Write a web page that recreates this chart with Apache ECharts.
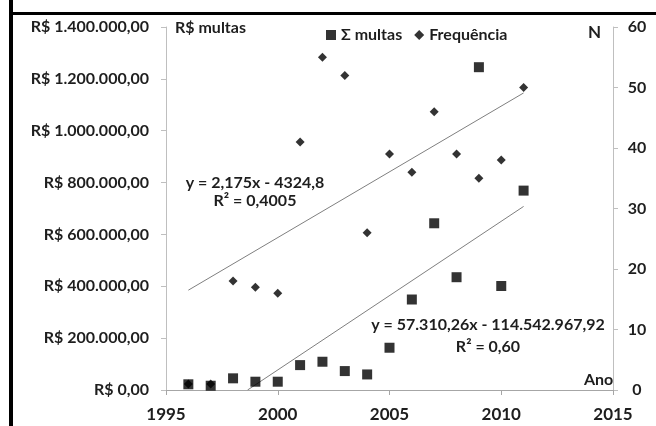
<!DOCTYPE html>
<html><head><meta charset="utf-8">
<script src="https://cdn.jsdelivr.net/npm/echarts@6/dist/echarts.min.js"></script>
<style>html,body{margin:0;padding:0;background:#fff}#c{width:656px;height:426px}</style>
</head><body><div id="c"></div>
<script>
var years = [1996,1997,1998,1999,2000,2001,2002,2003,2004,2005,2006,2007,2008,2009,2010,2011];
var multas = [22000,16500,45000,32000,32000,96000,109000,73000,60000,163000,349000,643000,435000,1245000,401000,769000];
var frequencia = [1,1,18,17,16,41,55,52,26,39,36,46,39,35,38,50];
var trendFreqX = [1996, 2011];
var trendFreqY = [16.5, 49.1];
var trendMultasX = [1998.65, 2011];
var trendMultasY = [0, 708000];
var xTicks = [1995, 2015, 5];
var leftTicks = [0, 1400000, 200000];
var rightTicks = [0, 60, 10];

var FONT = 'Lato';
var TXT = '#1e1e1e';
function brl(v){
  var s = Math.round(v).toString().replace(/\B(?=(\d{3})+(?!\d))/g, '.');
  return 'R$ ' + s + ',00';
}
function pairs(xs, ys){ return xs.map(function(x,i){ return [x, ys[i]]; }); }

var chart = echarts.init(document.getElementById('c'));
chart.setOption({
  animation: false,
  textStyle: {fontFamily: FONT},
  grid: {left: 166, right: 43, top: 27, bottom: 36},
  legend: {
    left: 321, top: 22, itemGap: 12, itemWidth: 10, itemHeight: 10,
    textStyle: {fontFamily: FONT, fontWeight: 'bold', fontSize: 16, color: TXT},
    data: [{name: 'Σ multas', icon: 'rect'}, {name: 'Frequência', icon: 'diamond'}]
  },
  xAxis: {
    type: 'value', min: xTicks[0], max: xTicks[1], interval: xTicks[2],
    axisLine: {lineStyle: {color: '#a6a6a6'}},
    axisTick: {show: true, length: 5, lineStyle: {color: '#a6a6a6'}},
    splitLine: {show: false},
    axisLabel: {fontFamily: FONT, fontWeight: 'bold', fontSize: 17, color: TXT, margin: 16,
      formatter: function(v){ return String(v); }}
  },
  yAxis: [{
    type: 'value', min: leftTicks[0], max: leftTicks[1], interval: leftTicks[2],
    axisLine: {show: true, lineStyle: {color: '#bfbfbf'}},
    axisTick: {show: true, length: 5, lineStyle: {color: '#bfbfbf'}},
    splitLine: {show: false},
    axisLabel: {fontFamily: FONT, fontWeight: 'bold', fontSize: 16, color: TXT, margin: 17, formatter: brl}
  }, {
    type: 'value', position: 'right', min: rightTicks[0], max: rightTicks[1], interval: rightTicks[2],
    axisLine: {show: true, lineStyle: {color: '#bfbfbf'}},
    axisTick: {show: true, length: 5, lineStyle: {color: '#bfbfbf'}},
    splitLine: {show: false},
    axisLabel: {fontFamily: FONT, fontWeight: 'bold', fontSize: 16, color: TXT, margin: 24, align: 'center'}
  }],
  series: [{
    name: 'Σ multas', type: 'scatter', yAxisIndex: 0, symbol: 'rect', symbolSize: 10,
    itemStyle: {color: '#000'}, data: pairs(years, multas), z: 3
  }, {
    name: 'Frequência', type: 'scatter', yAxisIndex: 1, symbol: 'diamond', symbolSize: 9,
    itemStyle: {color: '#000'}, data: pairs(years, frequencia), z: 2
  }, {
    name: 'trendFreq', type: 'line', yAxisIndex: 1, symbol: 'none', silent: true,
    lineStyle: {color: '#7f7f7f', width: 1}, data: pairs(trendFreqX, trendFreqY)
  }, {
    name: 'trendMultas', type: 'line', yAxisIndex: 0, symbol: 'none', silent: true,
    lineStyle: {color: '#7f7f7f', width: 1}, data: pairs(trendMultasX, trendMultasY)
  }],
  graphic: [
    {type: 'rect', shape: {x: 9, y: 0, width: 4, height: 426}, style: {fill: '#000'}},
    {type: 'rect', shape: {x: 9, y: 12, width: 647, height: 3}, style: {fill: '#000'}},
    {type: 'text', left: 175, top: 20, style: {text: 'R$ multas', font: 'bold 16px ' + FONT, fill: TXT}},
    {type: 'text', left: 588, top: 24, style: {text: 'N', font: 'bold 17px ' + FONT, fill: TXT}},
    {type: 'text', left: 584, top: 372, style: {text: 'Ano', font: 'bold 16px ' + FONT, fill: TXT}},
    {type: 'text', x: 255, y: 174, style: {text: 'y = 2,175x - 4324,8\nR² = 0,4005', font: 'bold 16px ' + FONT, fill: TXT, align: 'center', lineHeight: 18}},
    {type: 'text', x: 488, y: 314, style: {text: 'y = 57.310,26x - 114.542.967,92\nR² = 0,60', font: 'bold 16px ' + FONT, fill: TXT, align: 'center', lineHeight: 22}}
  ]
});
</script></body></html>
